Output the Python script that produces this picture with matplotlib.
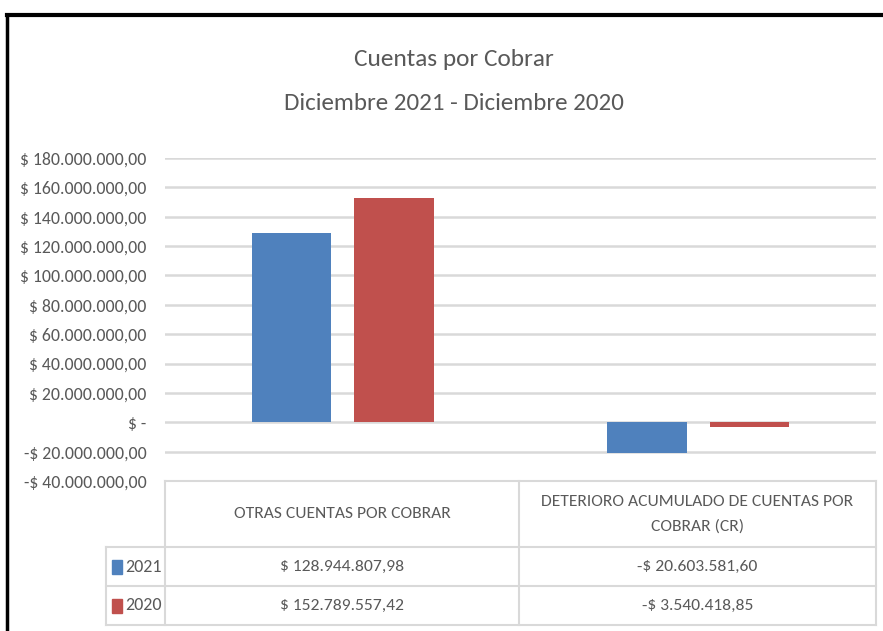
import matplotlib.pyplot as plt
import matplotlib.font_manager as fm
import numpy as np

# Data
categories = ['OTRAS CUENTAS POR COBRAR', 'DETERIORO ACUMULADO DE CUENTAS POR\nCOBRAR (CR)']
years = ['2021', '2020']
values_2021 = [128944807.98, -20603581.60]
values_2020 = [152789557.42, -3540418.85]
colors = ['#4F81BD', '#C0504D']
yticks = np.arange(-40e6, 180e6 + 1, 20e6)

# Calibri look-alike if it is there
names = {f.name for f in fm.fontManager.ttflist}
prefs = ['Carlito', 'Liberation Sans Narrow', 'Roboto Condensed', 'PT Sans Narrow',
         'Archivo Narrow', 'Liberation Sans']
FONT = [f for f in prefs if f in names][:1] + ['DejaVu Sans']
plt.rcParams['font.family'] = FONT
GRAY = '#595959'
GRID = '#D9D9D9'
FS = 12.6


def fmt_num(v):
    return '{:,.2f}'.format(abs(v)).replace(',', 'X').replace('.', ',').replace('X', '.')


def money(v):
    return ('-$ ' if v < 0 else '$ ') + fmt_num(v)


def tick_label(v):
    if v == 0:
        return '$ -'
    return ('-$ ' if v < 0 else '$ ') + fmt_num(v)


W, H = 883, 631
fig = plt.figure(figsize=(W / 100, H / 100), dpi=100)


def box(x0, y0, x1, y1):
    return [x0 / W, 1 - y1 / H, (x1 - x0) / W, (y1 - y0) / H]


# main chart
ax = fig.add_axes(box(165, 158, 876, 481))
x = np.arange(len(categories))
bw = 0.223
ax.bar(x - 0.144, values_2021, bw, color=colors[0], zorder=3)
ax.bar(x + 0.144, values_2020, bw, color=colors[1], zorder=3)
ax.set_xlim(-0.5, 1.5)
ax.set_ylim(-40e6, 180e6)
ax.set_yticks(yticks)
ax.set_yticklabels([tick_label(v) for v in yticks], color=GRAY, fontsize=12.8)
ax.tick_params(axis='y', length=0, pad=13.5)
ax.set_xticks([])
ax.grid(axis='y', color=GRID, linewidth=1.8, zorder=0)
for s in ax.spines.values():
    s.set_visible(False)

# title
fig.text(454 / W, 1 - 60 / H, 'Cuentas por Cobrar', ha='center', va='center',
         fontsize=18.3, color=GRAY)
fig.text(454 / W, 1 - 104 / H, 'Diciembre 2021 - Diciembre 2020', ha='center', va='center',
         fontsize=18, color=GRAY)

# data table
tx0, tmid, tx1 = 106, 519, 876
legx = 165
ty0, ty1, ty2, ty3 = 481, 547, 586, 625
lw = 1.5


def hline(y, xa, xb):
    fig.add_artist(plt.Line2D([xa / W, xb / W], [1 - y / H, 1 - y / H], color=GRID, lw=lw))


def vline(xv, ya, yb):
    fig.add_artist(plt.Line2D([xv / W, xv / W], [1 - ya / H, 1 - yb / H], color=GRID, lw=lw))


hline(ty0, legx, tx1)
hline(ty1, tx0, tx1)
hline(ty2, tx0, tx1)
hline(ty3, tx0, tx1)
vline(tx0, ty1, ty3)
vline(legx, ty0, ty3)
vline(tmid, ty0, ty3)
vline(tx1, ty0, ty3)

cx = [(legx + tmid) / 2, (tmid + tx1) / 2]
for c, lab in zip(cx, categories):
    fig.text(c / W, 1 - (ty0 + ty1) / 2 / H, lab, ha='center', va='center',
             fontsize=FS, color=GRAY, linespacing=1.9)

rows = [(values_2021, ty1, ty2), (values_2020, ty2, ty3)]
for (vals, ya, yb), yr, col in zip(rows, years, colors):
    ym = 1 - (ya + yb) / 2 / H
    fig.add_artist(plt.Rectangle((112 / W, ym - 7 / H), 10 / W, 14 / H, color=col))
    fig.text(125 / W, ym, yr, ha='left', va='center', fontsize=FS + 0.4, color=GRAY)
    for c, v in zip(cx, vals):
        fig.text(c / W, ym, money(v), ha='center', va='center', fontsize=FS, color=GRAY)

# outer border
fig.add_artist(plt.Line2D([7 / W, 1], [1 - 15 / H, 1 - 15 / H], color='black', lw=3))
fig.add_artist(plt.Line2D([7 / W, 7 / W], [1 - 15 / H, 0], color='black', lw=2.5))

fig.savefig('out.png', dpi=100, facecolor='white')
